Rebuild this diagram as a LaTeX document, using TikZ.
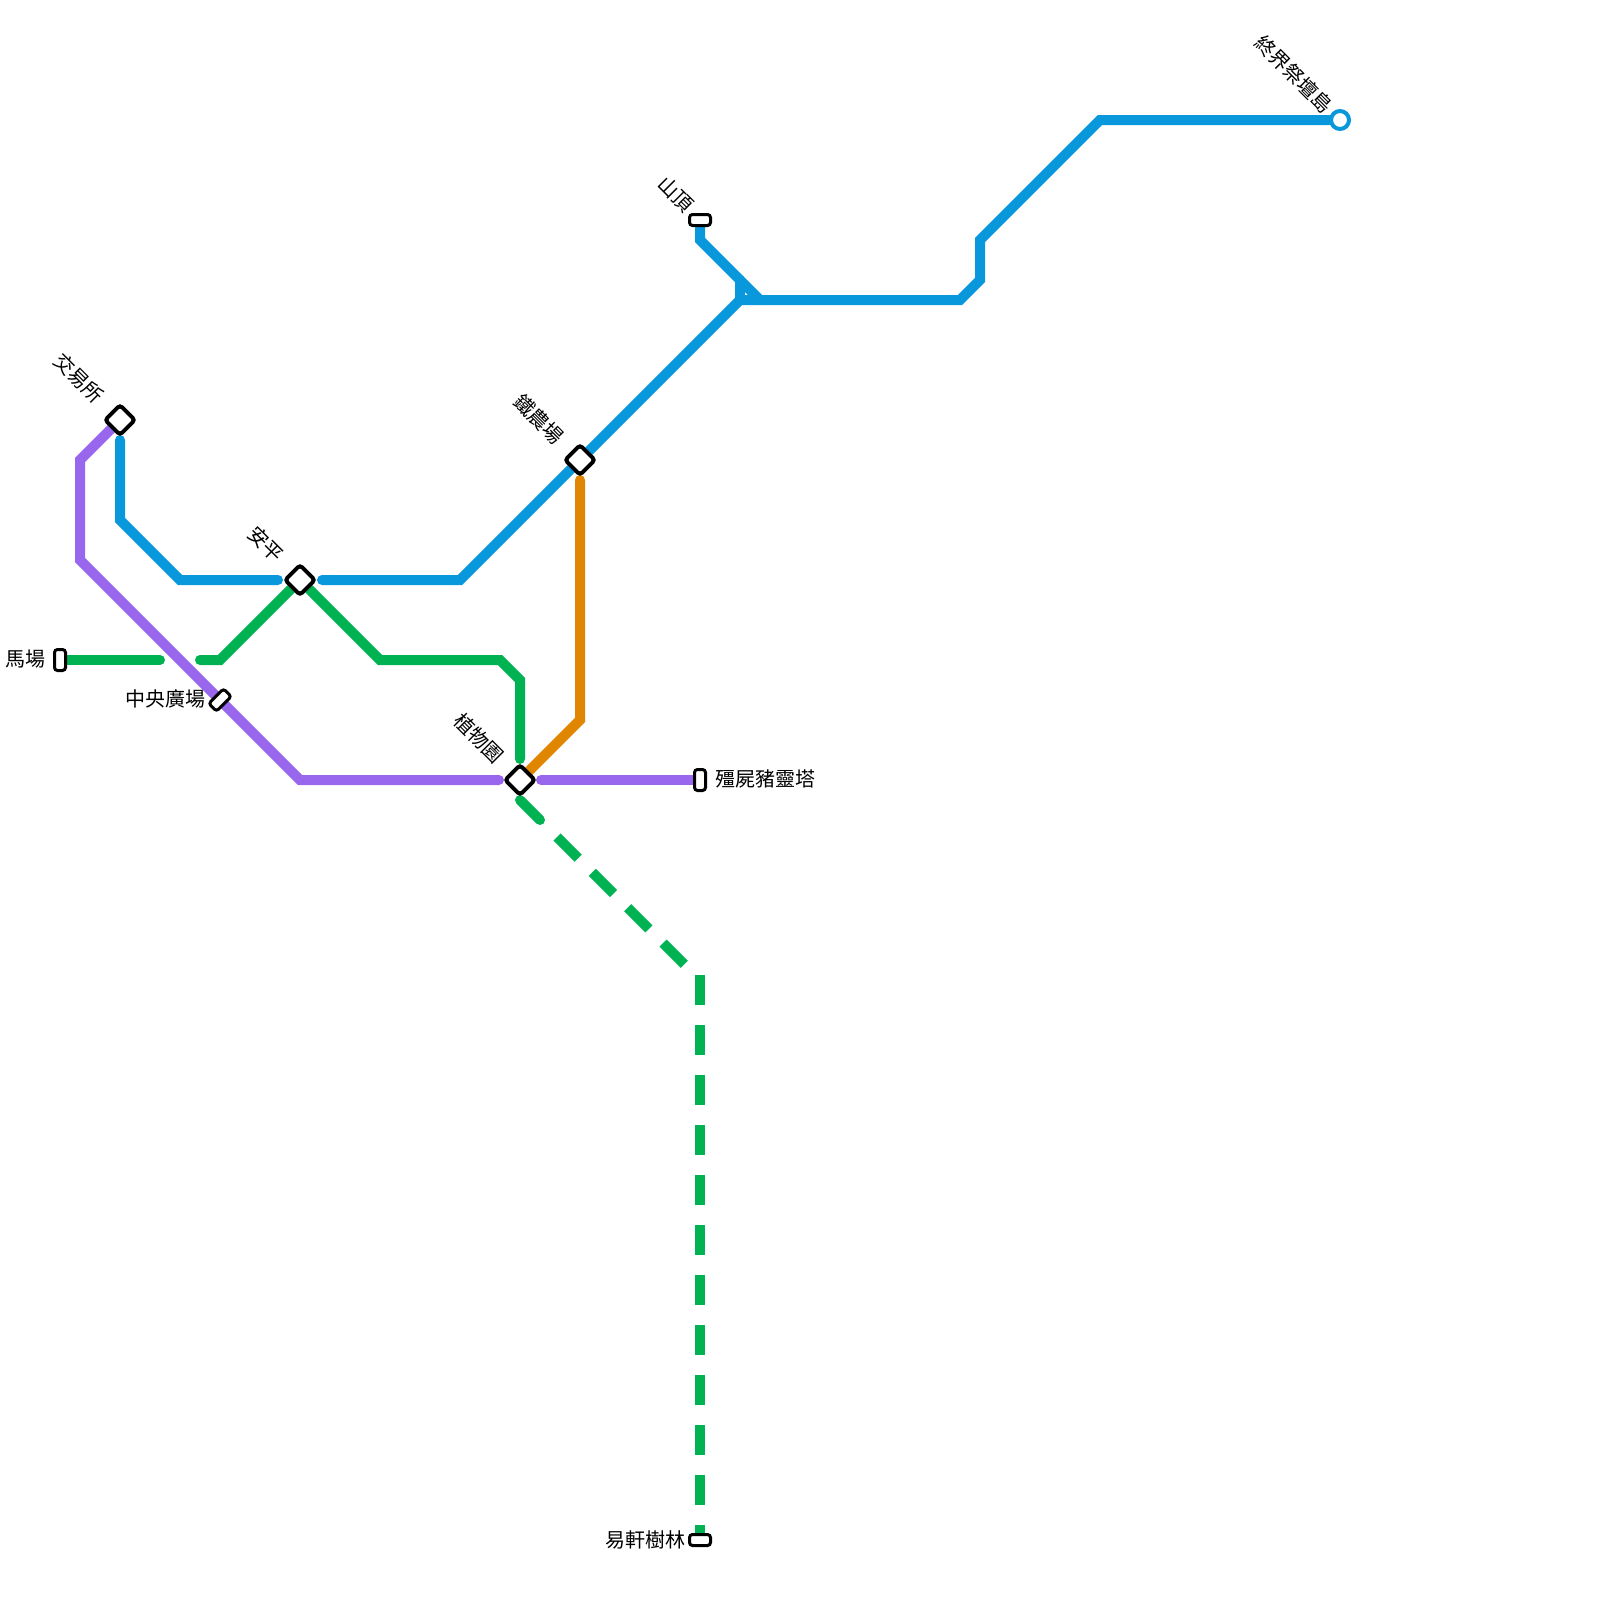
\documentclass[tikz,border=0pt]{standalone}
\usepackage{xcolor}
\usepackage{fontspec}
\usetikzlibrary{backgrounds}
\newfontfamily\cjk{Noto Sans CJK TC}
\definecolor{lineblue}{HTML}{0998DC}
\definecolor{linegreen}{HTML}{00B251}
\definecolor{linepurple}{HTML}{9966EE}
\definecolor{lineorange}{HTML}{E08600}
\tikzset{
  metro/.style={line width=0.5cm, line cap=round, line join=miter},
  dashmetro/.style={line width=0.5cm, line cap=butt, dash pattern=on 1.5cm off 1cm},
  hub/.style={draw=black, fill=white, line width=0.2cm, rectangle, rounded corners=0.15cm, minimum size=1.05cm, inner sep=0pt, rotate=45},
  stopwide/.style={draw=black, fill=white, line width=0.15cm, rectangle, rounded corners=0.15cm, minimum width=1.05cm, minimum height=0.55cm, inner sep=0pt},
  stoptall/.style={stopwide, minimum width=0.55cm, minimum height=1.05cm},
  endring/.style={draw=lineblue, fill=white, line width=0.2cm, circle, minimum size=0.9cm, inner sep=0pt},
  lbl/.style={font=\cjk\fontsize{28.45}{34}\selectfont, inner sep=0pt, text=black},
  lbldiag/.style={lbl, rotate=-45}
}
\begin{document}
\begin{tikzpicture}[x=1cm, y=-1cm]
        \useasboundingbox (0,0) rectangle (80,80);
        % stations
        \node[hub] (jiaoyi) at (6,21) {};
        \node[hub] (anping) at (15,29) {};
        \node[hub] (tienong) at (29,23) {};
        \node[hub] (zhiwu) at (26,39) {};
        \node[stoptall] (machang) at (3,33) {};
        \node[stopwide, rotate=45] (zhongyang) at (11,35) {};
        \node[stoptall] (jiangshi) at (35,39) {};
        \node[stopwide] (shanding) at (35,11) {};
        \node[stopwide] (yixuan) at (35,77) {};
        \node[endring] (zhongjie) at (67,6) {};
        % labels
        \node[lbldiag] (jiaoyilbl) at (3.95,18.9) {交易所};
        \node[lbldiag] (anpinglbl) at (13.3,27.2) {安平};
        \node[lbldiag] (tienonglbl) at (26.95,20.95) {鐵農場};
        \node[lbldiag] (zhiwulbl) at (23.95,36.9) {植物園};
        \node[lbldiag] (shandinglbl) at (33.8,9.7) {山頂};
        \node[lbldiag] (zhongjielbl) at (64.7,3.7) {終界祭壇島};
        \node[lbl, anchor=east] (machanglbl) at (2.3,32.95) {馬場};
        \node[lbl, anchor=east] (zhongyanglbl) at (10.3,34.95) {中央廣場};
        \node[lbl, anchor=west] (jiangshilbl) at (35.75,38.95) {殭屍豬靈塔};
        \node[lbl, anchor=east] (yixuanlbl) at (34.3,77) {易軒樹林};
        % bends and free ends
        \coordinate (b1) at (4,23);
        \coordinate (b2) at (4,28);
        \coordinate (b3) at (15,39);
        \coordinate (p1) at (24.95,39);
        \coordinate (p2) at (27.05,39);
        \coordinate (c1) at (6,22);
        \coordinate (c2) at (6,26);
        \coordinate (c3) at (9,29);
        \coordinate (c4) at (13.9,29);
        \coordinate (c5) at (16.1,29);
        \coordinate (c6) at (23,29);
        \coordinate (c7) at (37,15);
        \coordinate (c8) at (48,15);
        \coordinate (c9) at (49,14);
        \coordinate (c10) at (49,12);
        \coordinate (c11) at (55,6);
        \coordinate (s1) at (35,12);
        \coordinate (s2) at (38,15);
        \coordinate (s3) at (37,14);
        \coordinate (g1) at (8,33);
        \coordinate (g2) at (10,33);
        \coordinate (g3) at (11,33);
        \coordinate (g4) at (19,33);
        \coordinate (g5) at (25,33);
        \coordinate (g6) at (26,34);
        \coordinate (g7) at (26,37.95);
        \coordinate (o1) at (29,24);
        \coordinate (o2) at (29,36);
        \coordinate (d1) at (26,40);
        \coordinate (d2) at (27,41);
        \coordinate (d3) at (27.85,41.85);
        \coordinate (d4) at (34.5,48.5);
        \coordinate (d5) at (35,48.75);
        \begin{scope}[on background layer]
            \draw[metro, linepurple] (jiaoyi) -- (b1) -- (b2) -- (b3) -- (p1);
            \draw[metro, linepurple] (p2) -- (jiangshi);
            \draw[metro, lineblue] (c1) -- (c2) -- (c3) -- (c4);
            \draw[metro, lineblue] (c5) -- (c6) -- (c7) -- (c8) -- (c9) -- (c10) -- (c11) -- (zhongjie);
            \draw[metro, lineblue] (shanding) -- (s1) -- (s2);
            \draw[metro, lineblue] (s3) -- (c7);
            \draw[metro, linegreen] (machang) -- (g1);
            \draw[metro, linegreen] (g2) -- (g3) -- (anping) -- (g4) -- (g5) -- (g6) -- (g7);
            \draw[metro, lineorange] (o1) -- (o2) -- (zhiwu);
            \draw[metro, linegreen] (d1) -- (d2);
            \draw[dashmetro, linegreen] (d3) -- (d4);
            \draw[dashmetro, linegreen] (d5) -- (yixuan);
        \end{scope}
    \end{tikzpicture}
\end{document}
